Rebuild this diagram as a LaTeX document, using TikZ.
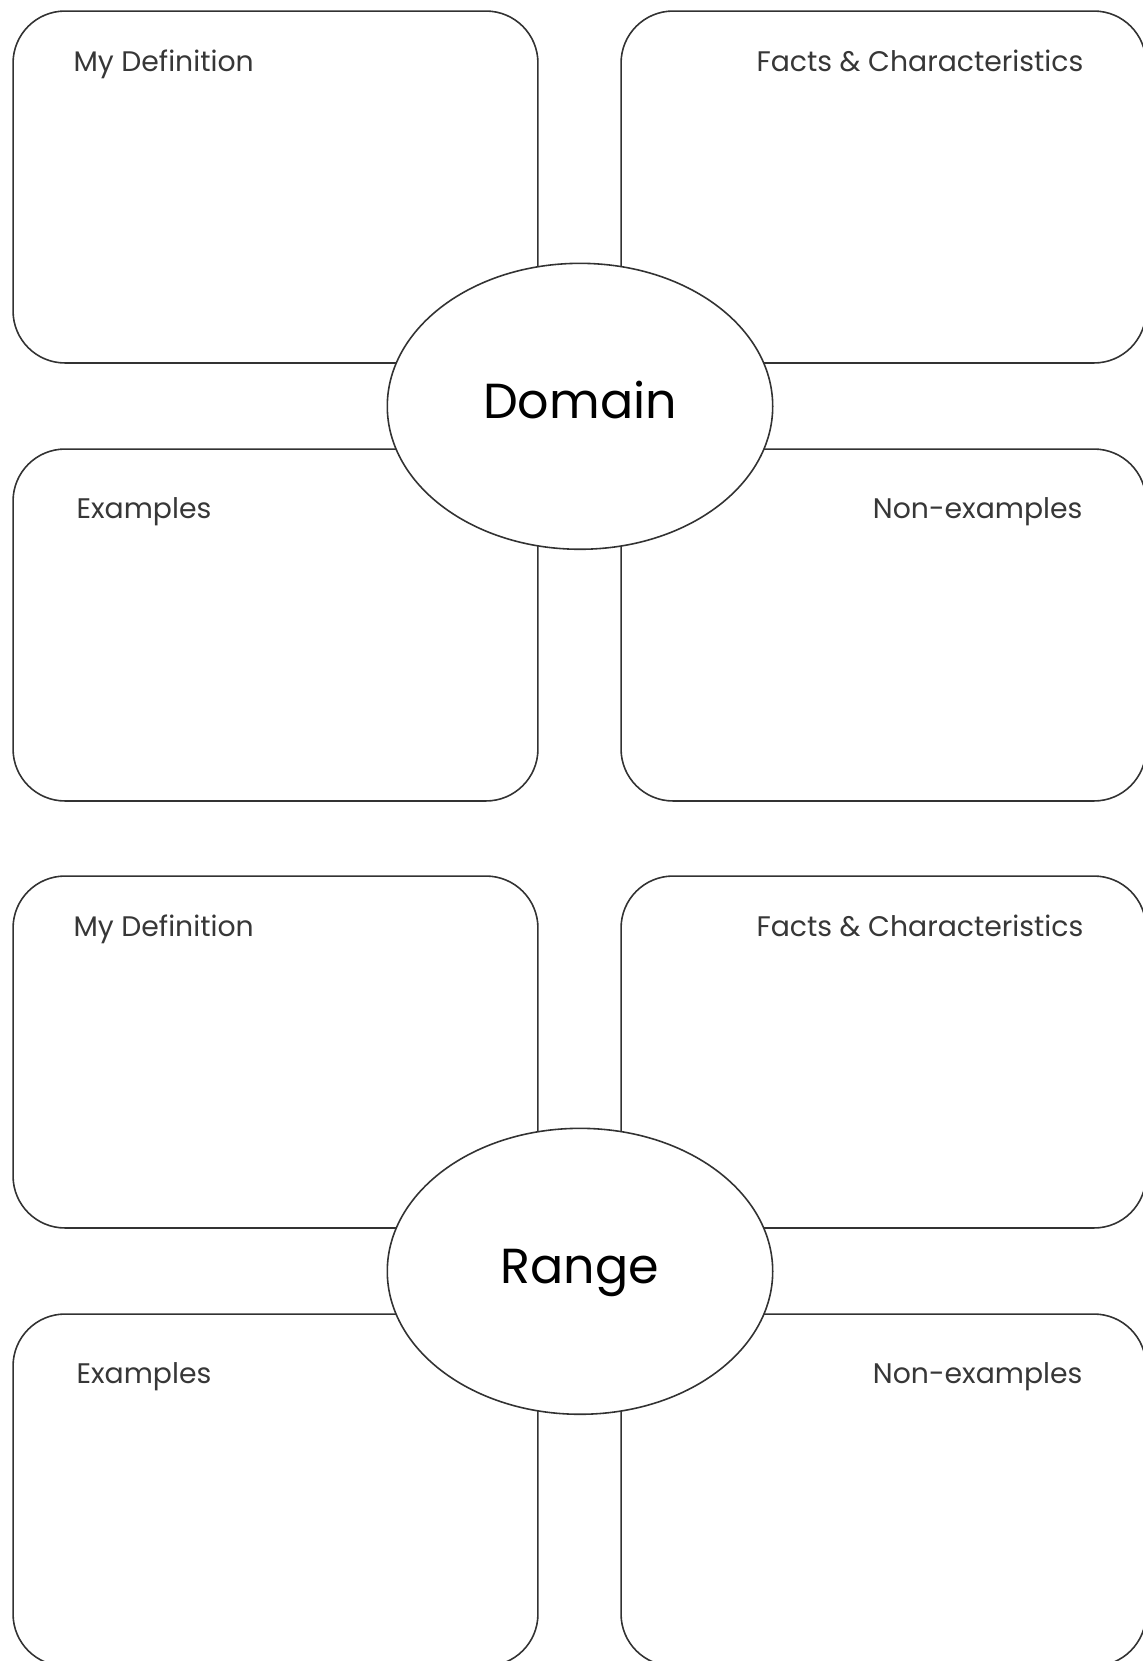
\documentclass[tikz,border=0pt]{standalone}
\usepackage{fontspec}
\setmainfont{Poppins}
\usetikzlibrary{shapes.geometric,calc}
\definecolor{inkgrey}{RGB}{50,50,50}
\definecolor{textgrey}{RGB}{55,55,55}

\begin{document}
\begin{tikzpicture}[
    x=0.02cm, y=-0.02cm,
    panel/.style={rectangle, draw=inkgrey, line width=0.9pt, rounded corners=1.04cm,
        minimum width=10.5cm, minimum height=7.04cm, inner sep=0pt},
    hub/.style={ellipse, draw=inkgrey, fill=white, line width=0.9pt, inner sep=0pt,
        minimum width=7.71cm, minimum height=5.72cm, text height=0.48cm, text depth=0pt,
        font=\fontsize{28}{30}\selectfont},
    tag/.style={inner sep=0pt, text=textgrey, font=\fontsize{16.1}{18}\selectfont}
]
\useasboundingbox (0,0) rectangle (1143,1661);
% Domain
\node[panel] (defD) at (275.5,187) {};
\node[panel] (factD) at (883.5,187) {};
\node[panel] (exD) at (275.5,625) {};
\node[panel] (nonD) at (883.5,625) {};
\node[hub] (domain) at (580,406.3) {Domain};
\node[tag, anchor=base west] (defDtxt) at ($(defD.north west)+(61,61)$) {My Definition};
\node[tag, anchor=base east] (factDtxt) at ($(factD.north east)+(-63,61)$) {Facts \& Characteristics};
\node[tag, anchor=base west] (exDtxt) at ($(exD.north west)+(64,70)$) {Examples};
\node[tag, anchor=base east] (nonDtxt) at ($(nonD.north east)+(-64,70)$) {Non-examples};
% Range
\node[panel] (defR) at (275.5,1052) {};
\node[panel] (factR) at (883.5,1052) {};
\node[panel] (exR) at (275.5,1490) {};
\node[panel] (nonR) at (883.5,1490) {};
\node[hub] (range) at (580,1271.3) {Range};
\node[tag, anchor=base west] (defRtxt) at ($(defR.north west)+(61,61)$) {My Definition};
\node[tag, anchor=base east] (factRtxt) at ($(factR.north east)+(-63,61)$) {Facts \& Characteristics};
\node[tag, anchor=base west] (exRtxt) at ($(exR.north west)+(64,70)$) {Examples};
\node[tag, anchor=base east] (nonRtxt) at ($(nonR.north east)+(-64,70)$) {Non-examples};
\end{tikzpicture}
\end{document}
